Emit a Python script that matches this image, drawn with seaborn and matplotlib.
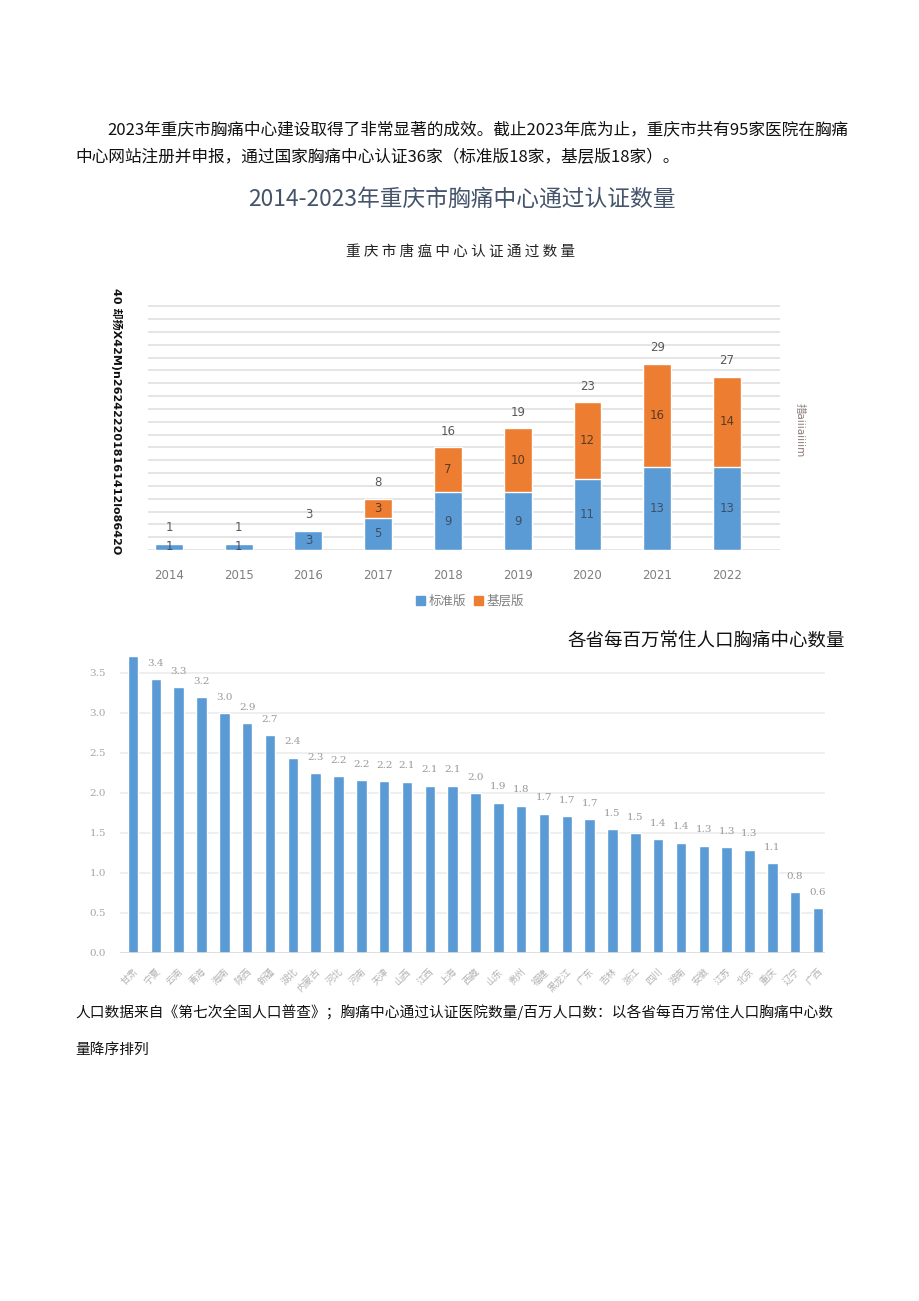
import matplotlib
matplotlib.use("Agg")
import matplotlib.pyplot as plt
import seaborn as sns
from matplotlib.patches import Patch

# chart 1: Chongqing chest pain centres passing certification per year
years = ["2014", "2015", "2016", "2017", "2018", "2019", "2020", "2021", "2022"]
standard = [1, 1, 3, 5, 9, 9, 11, 13, 13]
basic = [0, 0, 0, 3, 7, 10, 12, 16, 14]
totals = [s + b for s, b in zip(standard, basic)]

# chart 2: centres per million residents by province
provinces = ["甘肃", "宁夏", "云南", "青海", "海南", "陕西", "新疆", "湖北", "内蒙古", "河北",
             "河南", "天津", "山西", "江西", "上海", "西藏", "山东", "贵州", "福建", "黑龙江",
             "广东", "吉林", "浙江", "四川", "湖南", "安徽", "江苏", "北京", "重庆", "辽宁", "广西"]
per_million = [3.71, 3.42, 3.32, 3.20, 3.00, 2.87, 2.72, 2.44, 2.25, 2.21,
               2.16, 2.15, 2.14, 2.09, 2.09, 2.00, 1.88, 1.84, 1.74, 1.71,
               1.67, 1.55, 1.50, 1.42, 1.38, 1.34, 1.32, 1.29, 1.12, 0.76, 0.56]
value_labels = ["", "3.4", "3.3", "3.2", "3.0", "2.9", "2.7", "2.4", "2.3", "2.2",
                "2.2", "2.2", "2.1", "2.1", "2.1", "2.0", "1.9", "1.8", "1.7", "1.7",
                "1.7", "1.5", "1.5", "1.4", "1.4", "1.3", "1.3", "1.3", "1.1", "0.8", "0.6"]

para1 = "2023年重庆市胸痛中心建设取得了非常显著的成效。截止2023年底为止，重庆市共有95家医院在胸痛"
para2 = "中心网站注册并申报，通过国家胸痛中心认证36家（标准版18家，基层版18家）。"
heading = "2014-2023年重庆市胸痛中心通过认证数量"
chart1_title = " ".join("重庆市唐瘟中心认证通过数量")
chart2_title = "各省每百万常住人口胸痛中心数量"
note1 = "人口数据来自《第七次全国人口普查》；胸痛中心通过认证医院数量/百万人口数：以各省每百万常住人口胸痛中心数"
note2 = "量降序排列"
left_garble = "40 却扬X42M)n2624222018161412lo8642O"
right_garble = "措aiiiaiiiim"

BLUE = "#5B9BD5"
ORANGE = "#ED7D31"
CJK = ["Noto Sans CJK SC", "DejaVu Sans"]

sns.set_theme(style="white")
plt.rcParams["font.family"] = CJK

W, H = 920, 1301
fig = plt.figure(figsize=(W / 100, H / 100), dpi=100)


def fx(px):
    return px / W


def fy(py):
    return 1 - py / H


# page text
fig.text(fx(107), fy(130), para1, fontsize=12.0, color="#111111", va="center", ha="left")
fig.text(fx(75), fy(158), para2, fontsize=12.0, color="#111111", va="center", ha="left")
fig.text(fx(462), fy(199), heading, fontsize=16.4, color="#44546A", va="center", ha="center")
fig.text(fx(461), fy(252), chart1_title, fontsize=10.5, color="#222222", va="center", ha="center")

# ---- chart 1: stacked bars ----
ax1 = fig.add_axes([fx(148), fy(550), fx(780 - 148), (550 - 305) / H])
sns.barplot(x=years, y=totals, color=ORANGE, saturation=1, width=0.4, ax=ax1)
sns.barplot(x=years, y=standard, color=BLUE, saturation=1, width=0.4, ax=ax1)
ax1.set_xlim(-0.3, 8.76)
ax1.set_ylim(0, 38.2)
ax1.set_yticks(range(0, 39, 2))
ax1.yaxis.grid(True, color="#e3e3e3", lw=1.3)
ax1.set_axisbelow(True)
ax1.tick_params(axis="y", left=False, labelleft=False)
ax1.tick_params(axis="x", bottom=False, labelsize=8.5, labelcolor="#7f7f7f", pad=8)
for lab in ax1.get_xticklabels():
    lab.set_family(["DejaVu Sans"])
for s in ax1.spines.values():
    s.set_visible(False)
ax1.set_xlabel("")
ax1.set_ylabel("")
for i, (s, b, t) in enumerate(zip(standard, basic, totals)):
    ax1.text(i, s / 2, str(s), ha="center", va="center", fontsize=8.5, color="#3d4f66",
             family=["DejaVu Sans"])
    if b > 0:
        ax1.text(i, s + b / 2, str(b), ha="center", va="center", fontsize=8.5, color="#5a3a22",
                 family=["DejaVu Sans"])
    ax1.text(i, t + 2.5, str(t), ha="center", va="center", fontsize=8.5, color="#595959",
             family=["DejaVu Sans"])

fig.legend(handles=[Patch(color=BLUE, label="标准版"), Patch(color=ORANGE, label="基层版")],
           loc="center", bbox_to_anchor=(fx(470), fy(601)), ncol=2, frameon=False,
           handlelength=0.7, handleheight=0.7, handletextpad=0.3, columnspacing=0.6,
           fontsize=9, labelcolor="#7f7f7f")

fig.text(fx(116), fy(288), left_garble, rotation=-90, ha="center", va="top", fontsize=8.0,
         fontweight="bold", color="#111111", family=["DejaVu Sans", "Noto Sans CJK SC"])
fig.text(fx(800), fy(403), right_garble, rotation=-90, ha="center", va="top", fontsize=7.5,
         color="#8a7a74", family=["DejaVu Sans", "Noto Sans CJK SC"])

# ---- chart 2: per million residents ----
fig.text(fx(845), fy(642), chart2_title, fontsize=13.3, color="#111111", va="center", ha="right")

ax2 = fig.add_axes([fx(120), fy(953), fx(825 - 120), 300 / H])
sns.barplot(x=provinces, y=per_million, color=BLUE, saturation=1, width=0.46, ax=ax2)
ax2.set_xlim(-0.57, 30.31)
ax2.set_ylim(0, 3.75)
ax2.set_yticks([0, 0.5, 1.0, 1.5, 2.0, 2.5, 3.0, 3.5])
ax2.set_yticklabels([f"{v:.1f}" for v in [0, 0.5, 1.0, 1.5, 2.0, 2.5, 3.0, 3.5]],
                    family=["DejaVu Serif"], fontsize=7.5, color="#a6a6a6")
ax2.yaxis.grid(True, color="#ececec", lw=1.2)
ax2.set_axisbelow(True)
ax2.tick_params(axis="y", left=False, pad=4)
ax2.tick_params(axis="x", bottom=False, pad=4)
ax2.set_xticks(range(len(provinces)))
ax2.set_xticklabels(provinces, rotation=45, ha="right", va="top", fontsize=6.8,
                    color="#b3b3b3", rotation_mode="anchor")
for s in ax2.spines.values():
    s.set_visible(False)
ax2.axhline(0, color="#dcdcdc", lw=1.2)
ax2.set_xlabel("")
ax2.set_ylabel("")
for i, (v, lab) in enumerate(zip(per_million, value_labels)):
    if lab:
        ax2.text(i, v + 0.2, lab, ha="center", va="center", fontsize=7.5, color="#999999",
                 family=["DejaVu Serif"])

fig.text(fx(75), fy(1012), note1, fontsize=10.6, color="#111111", va="center", ha="left")
fig.text(fx(75), fy(1050), note2, fontsize=10.6, color="#111111", va="center", ha="left")

fig.savefig("out.png", dpi=100, facecolor="white")
